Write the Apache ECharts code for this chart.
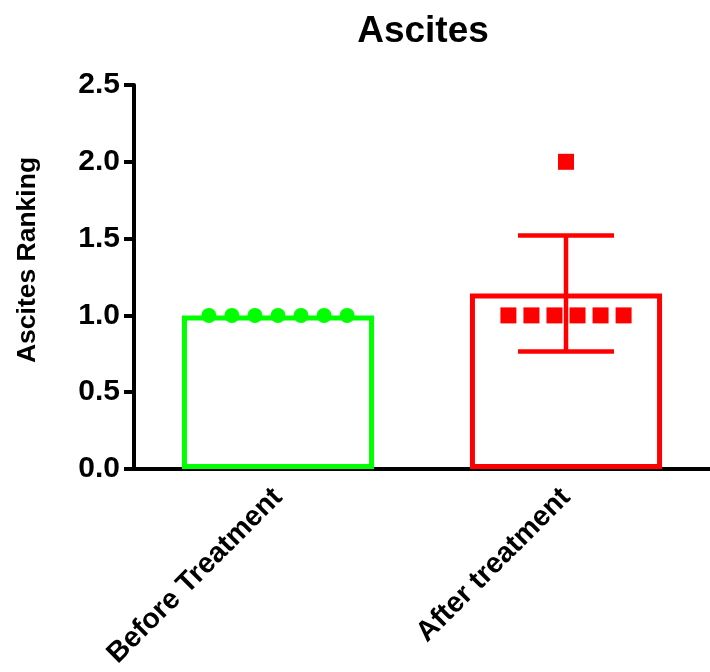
<!DOCTYPE html>
<html>
<head>
<meta charset="utf-8">
<script src="https://cdn.jsdelivr.net/npm/echarts@6/dist/echarts.min.js"></script>
<style>
  html, body { margin: 0; padding: 0; background: #fff; }
  #chart { width: 710px; height: 672px; }
</style>
</head>
<body>
<div id="chart"></div>
<script>
// 数据
var categories = ['Before Treatment', 'After treatment'];
var beforeValues = [1, 1, 1, 1, 1, 1, 1];
var afterValues = [1, 1, 1, 1, 1, 1, 2];
// 点的横向位置 (x 轴 0..2, 每个类别占 1)
var beforeX = [0.26, 0.34, 0.42, 0.50, 0.58, 0.66, 0.74];
var afterX = [1.30, 1.38, 1.46, 1.54, 1.62, 1.70, 1.50];
var yTicks = [0, 0.5, 1.0, 1.5, 2.0, 2.5];

var green = '#00ff00', red = '#ff0000';
var font = 'Liberation Sans, Arial, sans-serif';

function mean(a) {
    var s = 0;
    for (var i = 0; i < a.length; i++) s += a[i];
    return s / a.length;
}
function sd(a) {
    var m = mean(a), s = 0;
    for (var i = 0; i < a.length; i++) s += (a[i] - m) * (a[i] - m);
    return Math.sqrt(s / (a.length - 1));
}

var groups = [beforeValues, afterValues];
var means = groups.map(mean);
var errData = groups.map(function (g, i) { return [i, mean(g), sd(g)]; });

function points(xs, ys) {
    return ys.map(function (v, i) { return [xs[i], v]; });
}

var myChart = echarts.init(document.getElementById('chart'));

var option = {
    animation: false,
    title: {
        text: 'Ascites',
        left: 418,
        top: 8,
        textAlign: 'center',
        textStyle: { fontFamily: font, fontSize: 37, fontWeight: 'bold', color: '#000' }
    },
    graphic: [{
        type: 'text',
        x: 28,
        y: 260,
        rotation: Math.PI / 2,
        style: {
            text: 'Ascites Ranking',
            font: 'bold 26.5px ' + font,
            fill: '#000',
            textAlign: 'center',
            textVerticalAlign: 'middle'
        }
    }],
    grid: { left: 134, right: 0, top: 85, bottom: 203, containLabel: false },
    xAxis: [{
        type: 'category',
        data: categories,
        axisLine: { lineStyle: { color: '#000', width: 4 } },
        axisTick: { alignWithLabel: true, length: 10, lineStyle: { color: '#000', width: 4 } },
        axisLabel: {
            rotate: 45,
            margin: 24,
            color: '#000',
            fontFamily: font,
            fontSize: 28.5,
            fontWeight: 'bold'
        },
        splitLine: { show: false }
    }, {
        type: 'value',
        min: 0,
        max: 2,
        show: false
    }],
    yAxis: {
        type: 'value',
        min: 0,
        max: 2.5,
        interval: 0.5,
        axisLine: { show: true, lineStyle: { color: '#000', width: 4 } },
        axisTick: { show: true, length: 10, lineStyle: { color: '#000', width: 4 } },
        axisLabel: {
            margin: 14,
            color: '#000',
            fontFamily: font,
            fontSize: 30,
            fontWeight: 'bold',
            formatter: function (v) { return v.toFixed(1); }
        },
        splitLine: { show: false }
    },
    series: [{
        type: 'bar',
        data: means.map(function (m, i) {
            return {
                value: m,
                itemStyle: { borderColor: i === 0 ? green : red }
            };
        }),
        barWidth: '66.7%',
        itemStyle: { color: 'rgba(255,255,255,0)', borderWidth: 5 },
        z: 2
    }, {
        type: 'custom',
        data: errData,
        renderItem: function (params, api) {
            var i = api.value(0), m = api.value(1), s = api.value(2);
            if (!s) return null;
            var band = api.size([1, 0])[0];
            var half = band / 6;
            var top = api.coord([i, m + s]);
            var bot = api.coord([i, m - s]);
            var st = { stroke: red, lineWidth: 4.5 };
            return {
                type: 'group',
                children: [
                    { type: 'line', shape: { x1: top[0], y1: top[1], x2: bot[0], y2: bot[1] }, style: st },
                    { type: 'line', shape: { x1: top[0] - half, y1: top[1], x2: top[0] + half, y2: top[1] }, style: st },
                    { type: 'line', shape: { x1: bot[0] - half, y1: bot[1], x2: bot[0] + half, y2: bot[1] }, style: st }
                ]
            };
        },
        z: 3
    }, {
        type: 'scatter',
        xAxisIndex: 1,
        data: points(beforeX, beforeValues),
        symbol: 'circle',
        symbolSize: 15,
        itemStyle: { color: green, opacity: 1 },
        z: 4
    }, {
        type: 'scatter',
        xAxisIndex: 1,
        data: points(afterX, afterValues),
        symbol: 'rect',
        symbolSize: 16,
        itemStyle: { color: red, opacity: 1 },
        z: 4
    }]
};

myChart.setOption(option);
</script>
</body>
</html>
